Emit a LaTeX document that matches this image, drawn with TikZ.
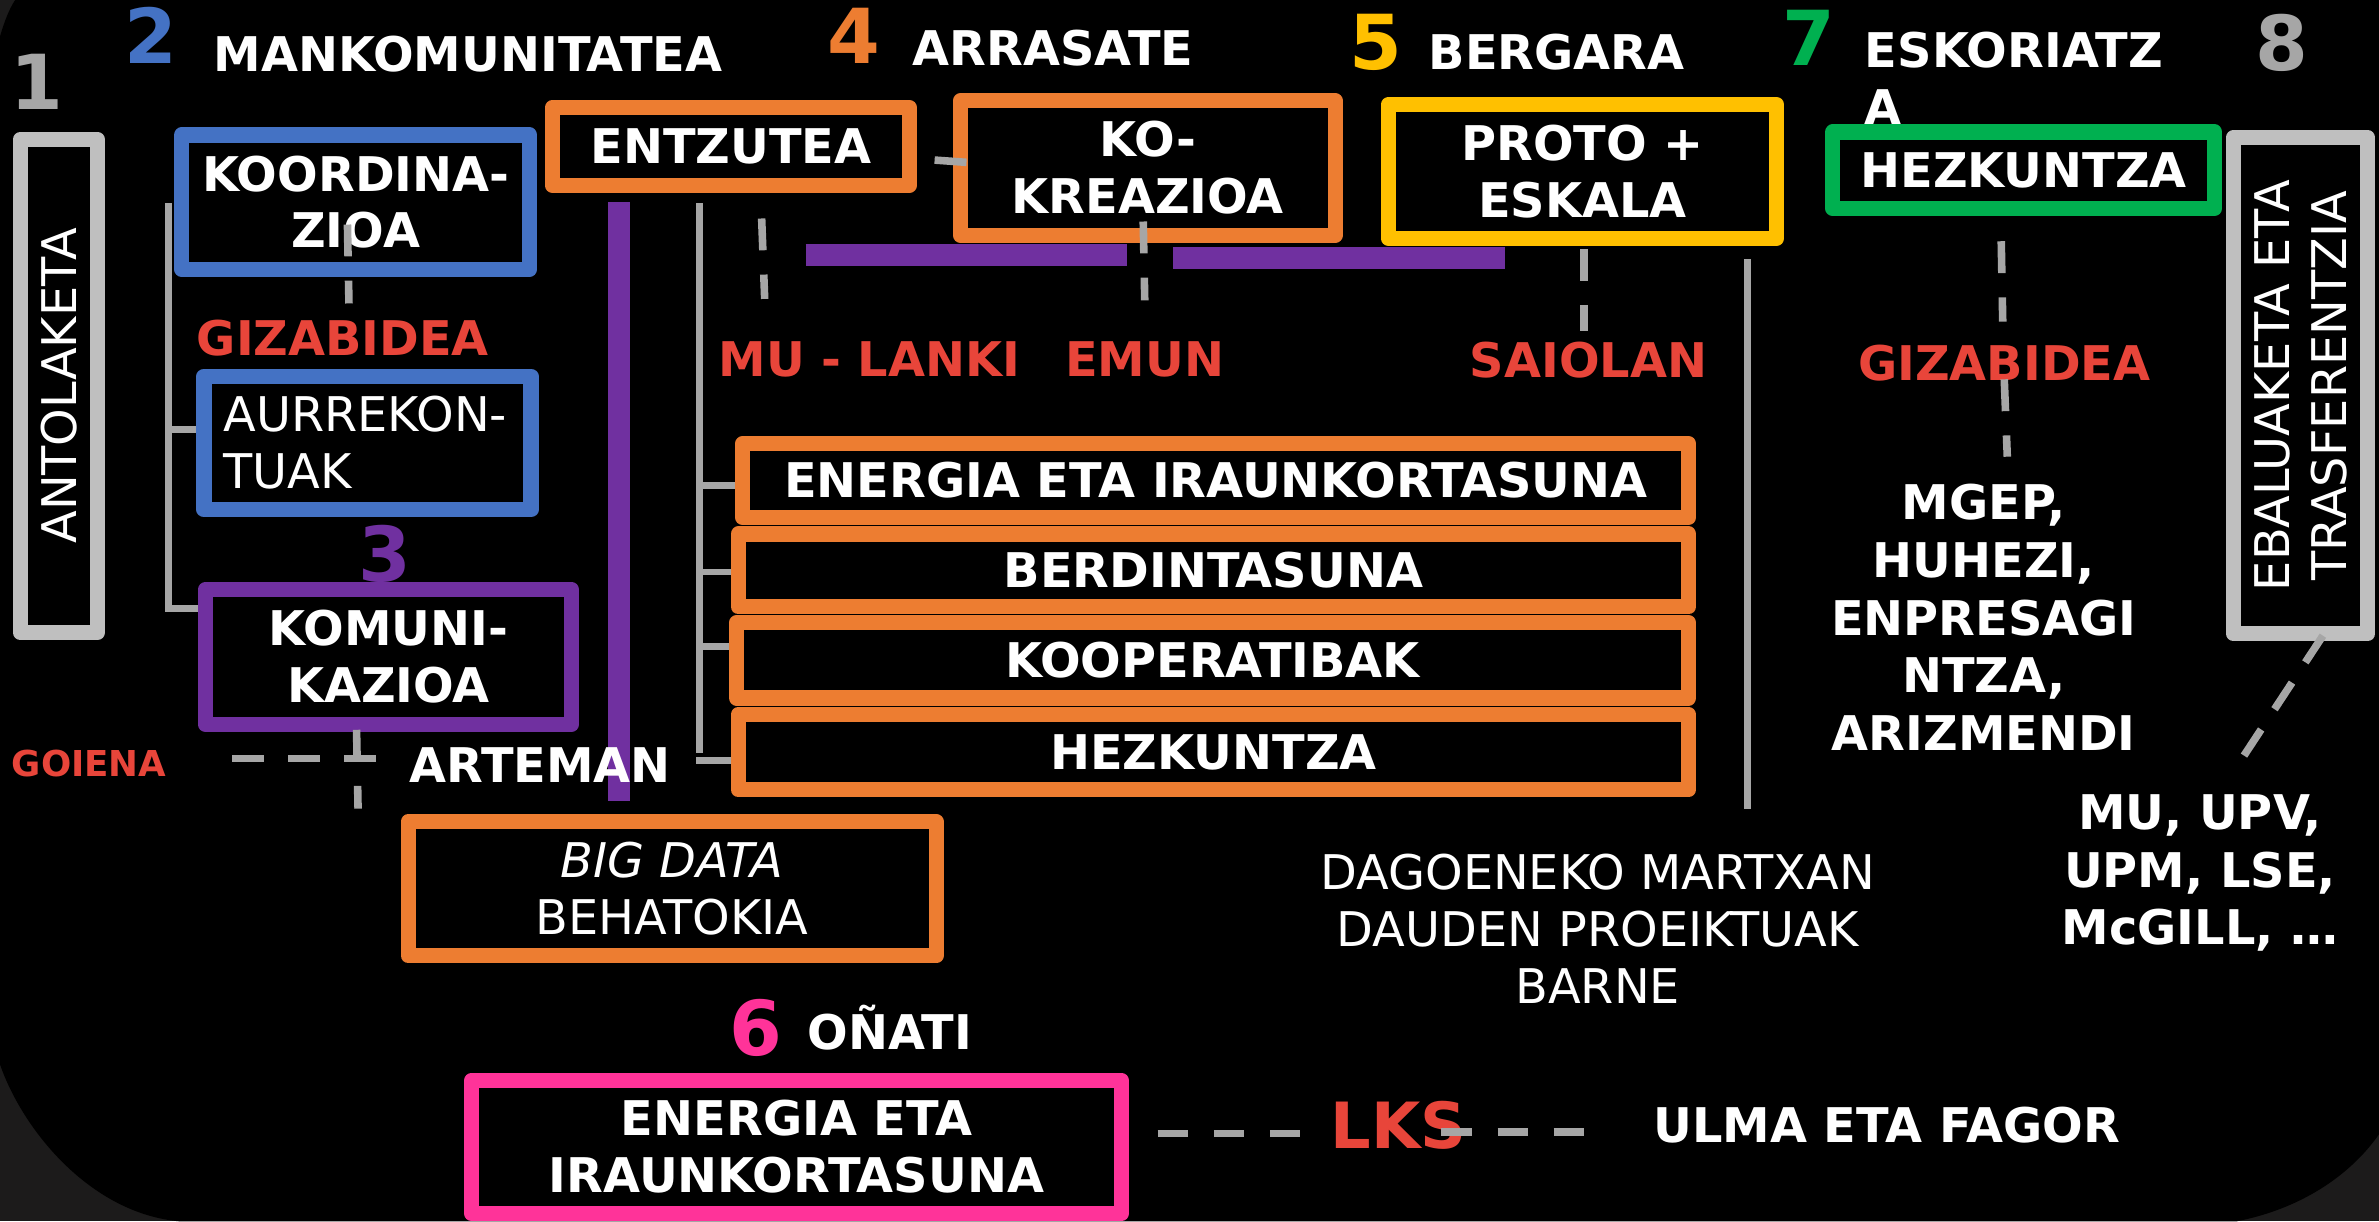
\documentclass[tikz,border=0pt]{standalone}
\usepackage{fontspec}
\setmainfont{DejaVu Sans}
\definecolor{cblue}{HTML}{4472C4}
\definecolor{corange}{HTML}{ED7D31}
\definecolor{cgold}{HTML}{FFC000}
\definecolor{cgreen}{HTML}{00B050}
\definecolor{cpurple}{HTML}{7030A0}
\definecolor{cpink}{HTML}{FF3399}
\definecolor{cboxgray}{HTML}{BFBFBF}
\definecolor{clinegray}{HTML}{A6A6A6}
\definecolor{cred}{HTML}{E8453A}
\definecolor{cout}{HTML}{1C1B1B}
\tikzset{
  box/.style={draw=#1, line width=10pt, line join=round, fill=black, text=white, align=center, inner sep=0pt},
  sz/.style 2 args={minimum width=#1pt, minimum height=#2pt},
  bigtext/.style={font=\fontsize{31.5pt}{37.5pt}\selectfont\bfseries},
  thintext/.style={font=\fontsize{31.5pt}{37.5pt}\selectfont},
  numtext/.style={font=\fontsize{50pt}{50pt}\selectfont\bfseries, text=#1, anchor=base, inner sep=0pt},
  lab/.style={font=\fontsize{31.5pt}{37.5pt}\selectfont\bfseries, text=#1, anchor=base, inner sep=0pt},
  block/.style={font=\fontsize{31.5pt}{38pt}\selectfont\bfseries, text=white, align=center, anchor=north, inner sep=0pt},
  solidgray/.style={draw=clinegray, line width=4.5pt},
  dashgray/.style={draw=clinegray, line width=5pt, dash pattern=on 21pt off 16pt},
  dashgrayb/.style={draw=clinegray, line width=5pt, dash pattern=on 20pt off 17pt},
  purpleline/.style={draw=cpurple, line width=14pt},
}
\begin{document}
\begin{tikzpicture}[x=1pt,y=-1pt]
\useasboundingbox (0,0) rectangle (1568,805);
% background
\fill[cout] (0,0) rectangle (1568,805);
\fill[black] (10,0) -- (1568,0) -- (1568,747.6)
  .. controls (1548,776) and (1515,797) .. (1474,805) -- (118.6,805)
  .. controls (60,800) and (15,745) .. (0,701.5) -- (0,24)
  .. controls (3,14) and (6,6) .. (10,0) -- cycle;

% coordinates for connectors
\coordinate (la) at (111,134);
\coordinate (lb) at (111,401);
\coordinate (lc) at (111,283);
\coordinate (ma) at (461,134);
\coordinate (mb) at (461,496);
\coordinate (m1) at (461,320);
\coordinate (m2) at (459,377);
\coordinate (m3) at (461,426);
\coordinate (m4) at (459,501);
\coordinate (ra) at (1152,171);
\coordinate (rb) at (1152,533);
\coordinate (pa) at (408,133);
\coordinate (pb) at (408,528);
\coordinate (pc) at (531,168);
\coordinate (pd) at (743,168);
\coordinate (pe) at (773,170);
\coordinate (pf) at (992,170);

% solid grey tree lines and purple lines (behind boxes)
\draw[solidgray] (la) -- (lb) -- (lb -| 136,0);
\draw[solidgray] (lc) -- (lc -| 134,0);
\draw[solidgray] (ma) -- (mb);
\draw[solidgray] (m1) -- (m1 -| 489,0);
\draw[solidgray] (m2) -- (m2 -| 486,0);
\draw[solidgray] (m3) -- (m3 -| 485,0);
\draw[solidgray] (m4) -- (m4 -| 486,0);
\draw[solidgray] (ra) -- (rb);
\draw[purpleline] (pa) -- (pb);
\draw[purpleline] (pc) -- (pd);
\draw[purpleline] (pe) -- (pf);

% boxes
\node[box=cboxgray, sz={325.2}{50.8}, rotate=90, thintext] (antol) at (38.8,254.4) {ANTOLAKETA};
\node[box=cblue, sz={229.3}{88.4}, bigtext] (koord) at (234.4,133.2) {KOORDINA-\\ZIOA};
\node[box=cblue, sz={215.6}{88}, thintext, text width=190pt, align=left] (aurre) at (242.2,292) {AURREKON-\\TUAK};
\node[box=cpurple, sz={241.2}{89}, bigtext] (komuni) at (256,433) {KOMUNI-\\KAZIOA};
\node[box=corange, sz={235.5}{51}, bigtext] (entzu) at (481.7,96.5) {ENTZUTEA};
\node[box=corange, sz={247}{88.5}, bigtext] (kokre) at (756.5,110.75) {KO-\\KREAZIOA};
\node[box=cgold, sz={256}{88}, bigtext] (proto) at (1043,113) {PROTO +\\ESKALA};
\node[box=cgreen, sz={251.6}{50.4}, bigtext] (hezk) at (1333.8,112.2) {HEZKUNTZA};
\node[box=cboxgray, sz={327}{88.6}, rotate=90, thintext] (ebal) at (1516.3,254.2) {EBALUAKETA ETA\\TRASFERENTZIA};
\node[box=corange, sz={623.5}{48.5}, bigtext] (energ) at (801.25,316.75) {ENERGIA ETA IRAUNKORTASUNA};
\node[box=corange, sz={626.5}{48}, bigtext] (berd) at (799.75,376) {BERDINTASUNA};
\node[box=corange, sz={627.5}{49.5}, bigtext] (koop) at (799.25,435.25) {KOOPERATIBAK};
\node[box=corange, sz={626.5}{49.5}, bigtext] (hezkb) at (799.75,495.75) {HEZKUNTZA};
\node[box=corange, sz={348}{88.4}, thintext] (bigd) at (443,585.8) {\textit{BIG DATA}\\BEHATOKIA};
\node[box=cpink, sz={428}{88}, bigtext] (onatib) at (525,756) {ENERGIA ETA\\IRAUNKORTASUNA};

% numbers
\node[numtext=clinegray] (n1) at (24,72.5) {1};
\node[numtext=cblue] (n2) at (99.5,42) {2};
\node[numtext=cpurple] (n3) at (254,383.5) {3};
\node[numtext=corange] (n4) at (563,42) {4};
\node[numtext=cgold] (n5) at (907,46) {5};
\node[numtext=cpink] (n6) at (498.5,696) {6};
\node[numtext=cgreen] (n7) at (1192.5,43.5) {7};
\node[numtext=clinegray] (n8) at (1504,46.5) {8};

% titles
\node[lab=white] (tmank) at (308.5,47) {MANKOMUNITATEA};
\node[lab=white] (tarra) at (694,43.5) {ARRASATE};
\node[lab=white] (tberg) at (1026,46) {BERGARA};
\node[bigtext, text=white, align=left, anchor=north west, inner sep=0pt] (tesko) at (1229,21) {ESKORIATZ\\A};
\node[lab=white] (tonat) at (586.5,691.5) {OÑATI};

% red labels
\node[lab=cred] (giza) at (226,234) {GIZABIDEA};
\node[lab=cred] (mulanki) at (573,248) {MU - LANKI};
\node[lab=cred] (emun) at (754.5,248) {EMUN};
\node[lab=cred] (saiolan) at (1047,249) {SAIOLAN};
\node[lab=cred] (gizb) at (1321,250.5) {GIZABIDEA};
\node[lab=cred, font=\fontsize{23.5pt}{28pt}\selectfont\bfseries] (goiena) at (58.7,511.5) {GOIENA};
\node[lab=cred, font=\fontsize{42pt}{50pt}\selectfont\bfseries] (lks) at (922,757) {LKS};

% white texts
\node[lab=white] (arteman) at (356,516) {ARTEMAN};
\node[lab=white] (ulma) at (1243.5,753) {ULMA ETA FAGOR};
\node[block] (mgep) at (1307.5,319) {MGEP,\\HUHEZI,\\ENPRESAGI\\NTZA,\\ARIZMENDI};
\node[block] (muupv) at (1450,523.6) {MU, UPV,\\UPM, LSE,\\McGILL, …};
\node[thintext, text=white, align=center, anchor=north, inner sep=0pt] (dago) at (1053,562.6) {DAGOENEKO MARTXAN\\DAUDEN PROEIKTUAK\\BARNE};

% dashed connectors (on top)
\coordinate (d1a) at (229,148);   \coordinate (d1b) at (230,200);
\coordinate (d2a) at (502,144);   \coordinate (d2b) at (504,197);
\coordinate (d3a) at (753.5,146); \coordinate (d3b) at (754.5,198);
\coordinate (d4a) at (1044,164);  \coordinate (d4b) at (1044,218);
\coordinate (d5a) at (1319,159);  \coordinate (d5b) at (1320,212);
\coordinate (d6a) at (1321,250);  \coordinate (d6b) at (1323,301);
\coordinate (d7a) at (1531,419);  \coordinate (d7b) at (1479,498);
\coordinate (d8a) at (235,481);   \coordinate (d8b) at (236,533);
\coordinate (d9a) at (153,500);   \coordinate (d9b) at (248,500);
\coordinate (d10a) at (763,747);  \coordinate (d10b) at (858,747);
\coordinate (d11a) at (950,746);  \coordinate (d11b) at (1044,746);
\coordinate (s1a) at (616,105.5); \coordinate (s1b) at (637,107);
\draw[dashgray] (d1a) -- (d1b);
\draw[dashgray] (d2a) -- (d2b);
\draw[dashgray] (d3a) -- (d3b);
\draw[dashgray] (d4a) -- (d4b);
\draw[dashgray] (d5a) -- (d5b);
\draw[dashgray] (d6a) -- (d6b);
\draw[dashgray] (d7a) -- (d7b);
\draw[dashgray] (d8a) -- (d8b);
\draw[dashgray] (d9a) -- (d9b);
\draw[dashgrayb] (d10a) -- (d10b);
\draw[dashgrayb] (d11a) -- (d11b);
\draw[draw=clinegray, line width=5pt] (s1a) -- (s1b);
\end{tikzpicture}
\end{document}
